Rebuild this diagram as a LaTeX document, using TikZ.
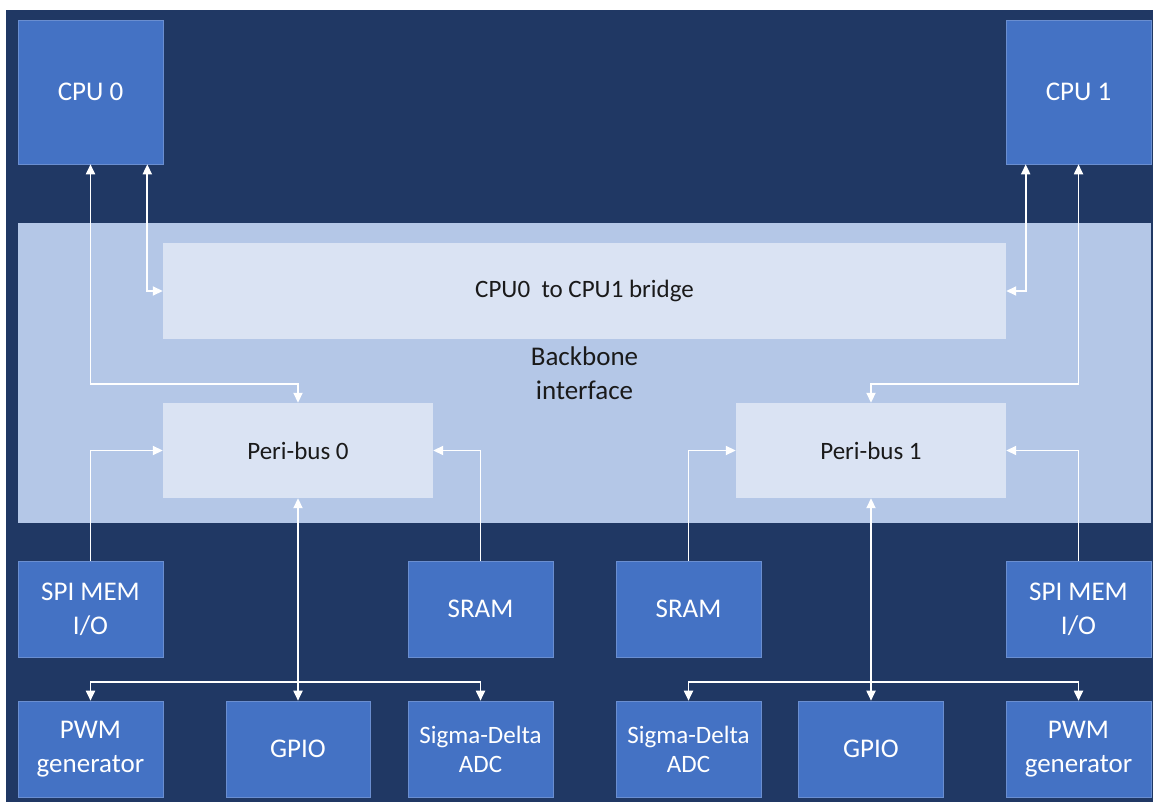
\documentclass[tikz,border=0pt]{standalone}
\usepackage{fontspec}
\setmainfont{Carlito}
\usetikzlibrary{arrows.meta,calc}
\definecolor{bgdark}{HTML}{203864}
\definecolor{boxblue}{HTML}{4472C4}
\definecolor{boxedge}{HTML}{6A8ED0}
\definecolor{backbone}{HTML}{B4C7E7}
\definecolor{lightbox}{HTML}{DAE3F3}
\definecolor{darktext}{HTML}{1A1A1A}
\tikzset{
  bluebox/.style={fill=boxblue, draw=boxedge, line width=0.6pt, text=white, align=center,
    minimum width=145pt, minimum height=96pt, inner sep=0pt,
    font=\fontsize{27}{34}\selectfont},
  litebox/.style={fill=lightbox, draw=none, text=darktext, align=center, inner sep=0pt,
    font=\fontsize{25}{30}\selectfont},
  conn/.style={draw=white, line width=1.8pt,
    arrows={-}, >={Triangle[length=10pt,width=9pt]}},
}
\begin{document}
\begin{tikzpicture}[x=1pt,y=-1pt]
\useasboundingbox (0,0) rectangle (1153,802);
\fill[white] (0,0) rectangle (1153,802);
\fill[bgdark] (6,10) rectangle (1153,802);

% backbone region
\node[fill=backbone, draw=none, minimum width=1133pt, minimum height=300pt, inner sep=0pt,
      align=center, text=darktext, font=\fontsize{27}{34}\selectfont]
      (backbone) at (584.5,373) {Backbone\\interface};

% CPUs
\node[bluebox, minimum height=144pt] (cpu0) at (90.5,92) {CPU 0};
\node[bluebox, minimum height=144pt] (cpu1) at (1078.5,92) {CPU 1};

% bridge and peri-buses
\node[litebox, minimum width=843pt, minimum height=96pt] (bridge) at (584.5,291) {CPU0\ \ to CPU1 bridge};
\node[litebox, minimum width=270pt, minimum height=95pt] (peri0) at (298,450.5) {Peri-bus 0};
\node[litebox, minimum width=270pt, minimum height=95pt] (peri1) at (871,450.5) {Peri-bus 1};

% left peripherals
\node[bluebox] (spi0) at (90.5,609) {SPI MEM\\I/O};
\node[bluebox] (sram0) at (480.5,609) {SRAM};
\node[bluebox] (pwm0) at (90.5,749) {PWM\\generator};
\node[bluebox, minimum width=144pt] (gpio0) at (298,749) {GPIO};
\node[bluebox, font=\fontsize{25}{29}\selectfont] (sd0) at (480.5,749) {Sigma-Delta\\ADC};

% right peripherals
\node[bluebox] (sram1) at (688.5,609) {SRAM};
\node[bluebox] (spi1) at (1078.5,609) {SPI MEM\\I/O};
\node[bluebox, font=\fontsize{25}{29}\selectfont] (sd1) at (688.5,749) {Sigma-Delta\\ADC};
\node[bluebox] (gpio1) at (871,749) {GPIO};
\node[bluebox] (pwm1) at (1078.5,749) {PWM\\generator};

% CPU connections
\draw[conn,<->] (cpu0.south) |- ([yshift=19pt]peri0.north) -- (peri0.north);
\draw[conn,<->] ([xshift=-16pt]cpu0.south east) |- (bridge.west);
\draw[conn,<->] ([xshift=20pt]cpu1.south west) |- (bridge.east);
\draw[conn,<->] (cpu1.south) |- ([yshift=19pt]peri1.north) -- (peri1.north);

% peri-bus 0
\draw[conn,->] (spi0.north) |- (peri0.west);
\draw[conn,->] (sram0.north) |- (peri0.east);
\draw[conn,<->] (peri0.south) -- (gpio0.north);
\draw[conn,<->] (pwm0.north) |- ([yshift=19pt]gpio0.north) -| (sd0.north);

% peri-bus 1
\draw[conn,->] (sram1.north) |- (peri1.west);
\draw[conn,->] (spi1.north) |- (peri1.east);
\draw[conn,<->] (peri1.south) -- (gpio1.north);
\draw[conn,<->] (sd1.north) |- ([yshift=19pt]gpio1.north) -| (pwm1.north);
\end{tikzpicture}
\end{document}
